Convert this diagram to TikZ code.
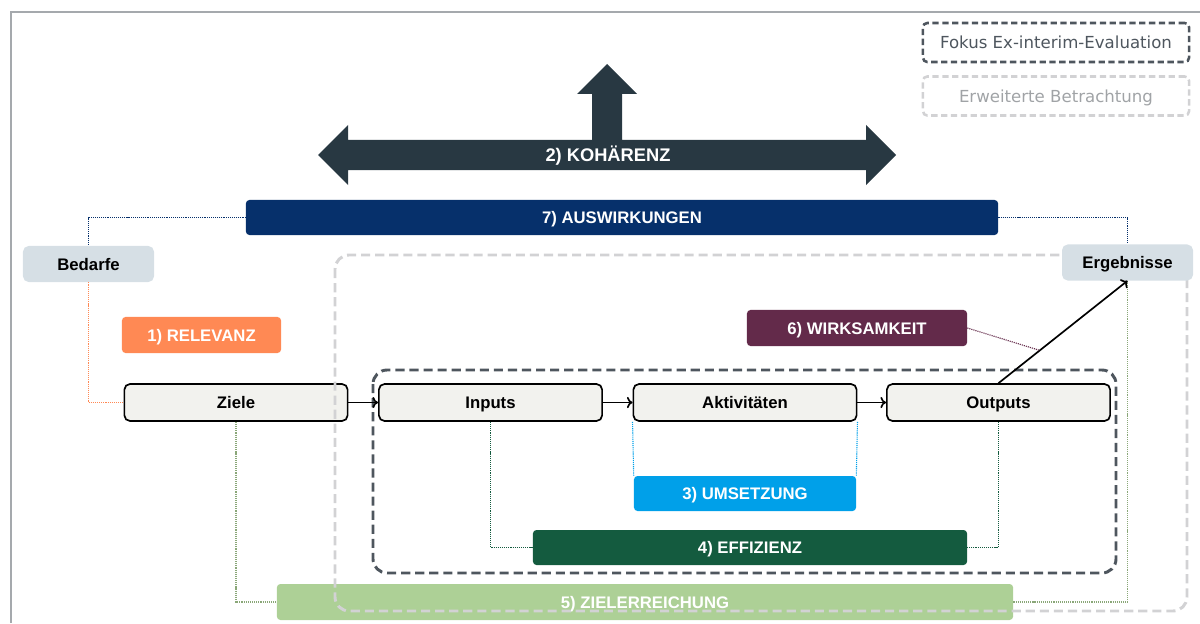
\documentclass[tikz,border=0pt]{standalone}
\usepackage{fontspec}
\setmainfont{Liberation Sans}
\newfontfamily\legendfont{DejaVu Sans}
\usetikzlibrary{arrows.meta}

\definecolor{rahmen}{RGB}{165,169,173}
\definecolor{kohaerenz}{RGB}{40,56,66}
\definecolor{auswirk}{RGB}{6,48,107}
\definecolor{relevanz}{RGB}{255,137,84}
\definecolor{wirksam}{RGB}{99,42,74}
\definecolor{umsetz}{RGB}{0,160,233}
\definecolor{effizienz}{RGB}{20,91,63}
\definecolor{zielerr}{RGB}{173,208,150}
\definecolor{prozessfill}{RGB}{242,242,238}
\definecolor{umfeldfill}{RGB}{214,223,229}
\definecolor{fokus}{RGB}{78,86,94}
\definecolor{erweitert}{RGB}{210,210,212}
\definecolor{erweitertext}{RGB}{160,163,166}

\begin{document}
\begin{tikzpicture}[x=0.025cm,y=-0.025cm,
    font=\fontsize{11.9}{14}\selectfont\bfseries,
    every node/.style={text height=8.6pt, text depth=0pt},
    kriterium/.style={rounded corners=2.5pt, inner sep=0pt, minimum height=0.9cm, text=white},
    prozess/.style={draw=black, line width=1.2pt, fill=prozessfill, rounded corners=4pt,
      minimum width=5.58cm, minimum height=0.925cm, inner sep=0pt},
    umfeld/.style={fill=umfeldfill, rounded corners=4pt, minimum width=3.275cm,
      minimum height=0.9cm, inner sep=0pt},
    legende/.style={rounded corners=3pt, line width=1.8pt, dash pattern=on 4.5pt off 2.5pt,
      minimum width=6.65cm, minimum height=0.975cm, inner sep=0pt,
      font=\legendfont\fontsize{11.8}{14}\selectfont},
    rahmenbox/.style={rounded corners=10pt, line width=2.1pt, dash pattern=on 6.5pt off 3.5pt},
    verbindung/.style={line width=0.8pt, dash pattern=on 0.8pt off 0.7pt},
    fluss/.style={line width=1.2pt, -{To[length=4pt,width=8pt]}}]
  \useasboundingbox (0,0) rectangle (1200,623);
  \draw[rahmen, line width=1pt] (11,623) -- (11,12) -- (1200,12);

  \fill[kohaerenz] (318,155) -- (348,125) -- (348,140) -- (592,140) -- (592,94) -- (577,94)
    -- (607,64) -- (637,94) -- (622,94) -- (622,140) -- (866,140) -- (866,125) -- (896,155)
    -- (866,185) -- (866,170) -- (348,170) -- (348,185) -- cycle;
  \node[text=white, font=\fontsize{13}{15}\selectfont\bfseries] (koh) at (608,155) {2) KOHÄRENZ};

  \node[legende, draw=fokus, text=fokus] (lfokus) at (1056,42.5) {Fokus Ex-interim-Evaluation};
  \node[legende, draw=erweitert, text=erweitertext] (lerw) at (1056,96) {Erweiterte Betrachtung};

  \node[kriterium, fill=auswirk, minimum width=18.8cm, minimum height=0.875cm] (ausw) at (622,217.5) {7) AUSWIRKUNGEN};
  \node[umfeld] (bed) at (88.5,264) {Bedarfe};
  \node[kriterium, fill=relevanz, minimum width=3.975cm] (rel) at (201.5,335) {1) RELEVANZ};
  \node[prozess] (ziele) at (236,402.5) {Ziele};
  \node[prozess] (inp) at (490.5,402.5) {Inputs};
  \node[prozess] (akt) at (745,402.5) {Aktivitäten};
  \node[prozess] (outp) at (998.5,402.5) {Outputs};
  \node[kriterium, fill=wirksam, minimum width=5.5cm] (wirk) at (857,328) {6) WIRKSAMKEIT};
  \node[kriterium, fill=umsetz, minimum width=5.55cm, minimum height=0.875cm] (ums) at (745,493.5) {3) UMSETZUNG};
  \node[kriterium, fill=effizienz, minimum width=10.85cm, minimum height=0.875cm] (eff) at (750,547.5) {4) EFFIZIENZ};
  \node[kriterium, fill=zielerr, minimum width=18.4cm] (zerr) at (645,602) {5) ZIELERREICHUNG};

  \draw[rahmenbox, erweitert] (335,255) rectangle (1187,611);
  \draw[rahmenbox, fokus] (373,370) rectangle (1116,573);

  \node[umfeld] (erg) at (1127.5,262.5) {Ergebnisse};

  \draw[verbindung, auswirk] (ausw.west) -| (bed.north);
  \draw[verbindung, auswirk] (ausw.east) -| (erg.north);
  \draw[verbindung, relevanz] (bed.south) |- (ziele.west);
  \draw[verbindung, zielerr!80!black] (ziele.south) |- (zerr.west);
  \draw[verbindung, zielerr!80!black] (zerr.east) -| (erg.south);
  \draw[verbindung, effizienz] (inp.south) |- (eff.west);
  \draw[verbindung, effizienz] (outp.south) |- (eff.east);
  \draw[verbindung, umsetz] (akt.south west) -- (ums.north west);
  \draw[verbindung, umsetz] (akt.south east) -- (ums.north east);

  \draw[fluss] (ziele) -- (inp);
  \draw[fluss] (inp) -- (akt);
  \draw[fluss] (akt) -- (outp);
  \draw[fluss] (outp.north) -- (erg.south) coordinate[pos=0.32] (wk);
  \draw[verbindung, wirksam] (wirk.east) -- (wk);
\end{tikzpicture}
\end{document}
